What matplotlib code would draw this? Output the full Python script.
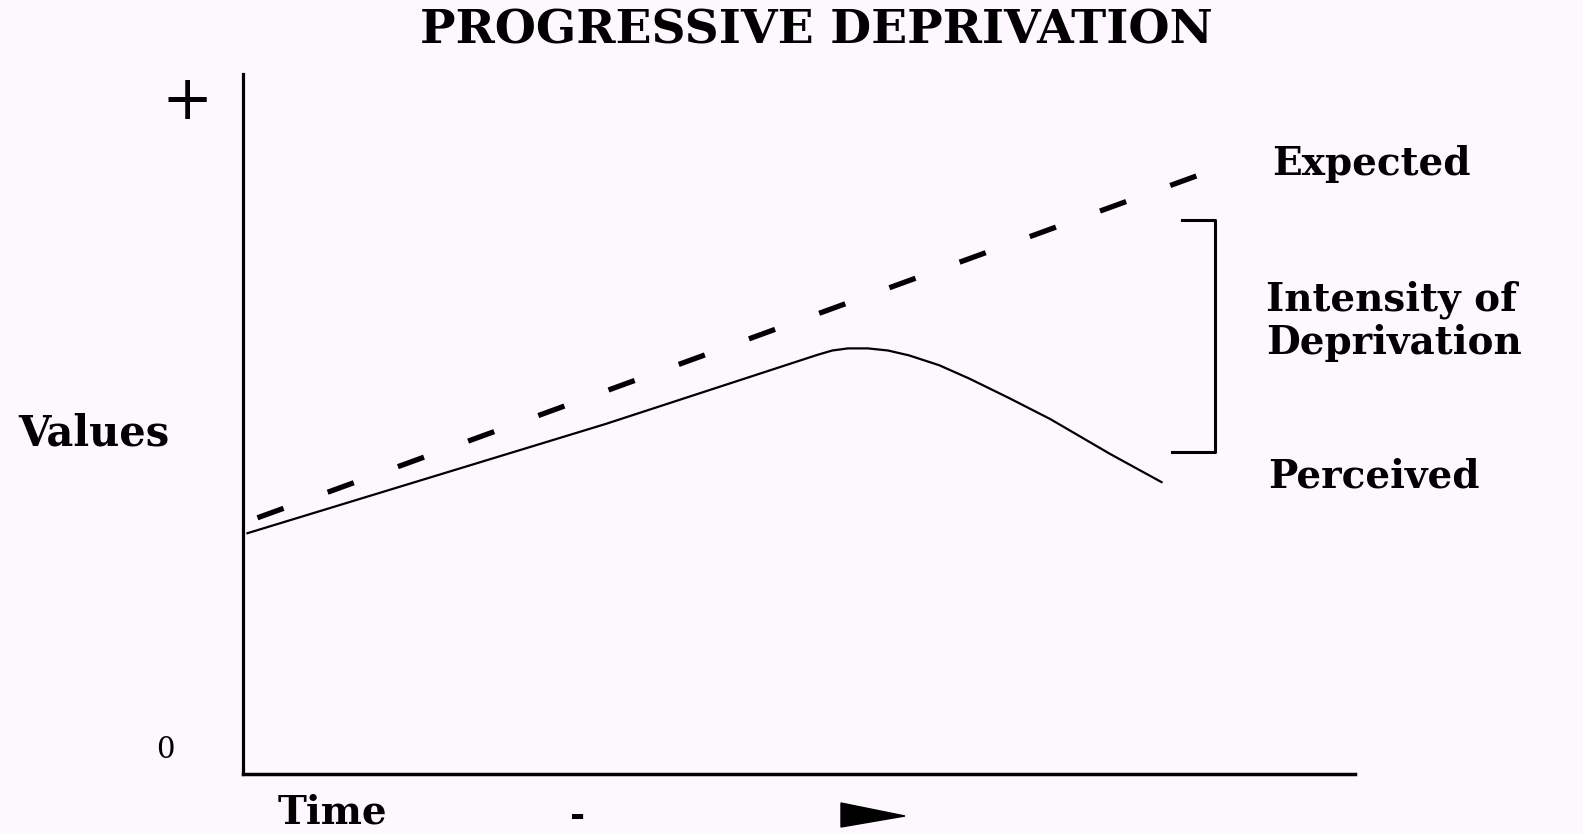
import matplotlib
matplotlib.use('Agg')
import matplotlib.pyplot as plt
from matplotlib.patches import Polygon

plt.rcParams['font.family'] = ['DejaVu Serif']
plt.rcParams['lines.scale_dashes'] = False

W, H = 1583, 834
BG = '#fdf8fd'

# 数据（时间 0-100，数值 0-100）
perceived_t = [0.4, 32.6, 51.7, 53.0, 54.4, 56.2, 58.0, 59.9, 62.6, 65.3, 68.9, 72.6, 78.0, 82.6]
perceived_v = [34.4, 50.0, 59.9, 60.5, 60.8, 60.8, 60.5, 59.8, 58.4, 56.5, 53.7, 50.7, 45.7, 41.7]
expected_t = [1.3, 86.2]
expected_v = [36.6, 85.7]

# 括号：剥夺强度
gap_x = 87.4
gap_top, gap_bottom = 79.1, 46.0
gap_tick_top, gap_tick_bottom = 84.4, 83.5

title = 'PROGRESSIVE DEPRIVATION'
labels = ['Expected', 'Intensity of\nDeprivation', 'Perceived']


def fx(px):
    return px / W


def fy(py):
    return 1 - py / H


fig = plt.figure(figsize=(W / 100, H / 100), dpi=100, facecolor=BG)
ax = fig.add_axes([fx(243), fy(774), fx(1355) - fx(243), fy(74) - fy(774)])
ax.set_xlim(0, 100)
ax.set_ylim(0, 100)
ax.set_xticks([])
ax.set_yticks([])
for s in ['top', 'right']:
    ax.spines[s].set_visible(False)
ax.spines['left'].set_linewidth(2.3)
ax.spines['bottom'].set_linewidth(2.5)
ax.patch.set_alpha(0)

# 实际感知线
ax.plot(perceived_t, perceived_v, color='black', lw=1.6, solid_joinstyle='round', clip_on=False)
# 预期线（虚线）
ax.plot(expected_t, expected_v, color='black', lw=3.8,
        linestyle=(0, (20, 33.8)), dash_capstyle='butt', clip_on=False)

# 括号
ax.plot([gap_tick_top, gap_x, gap_x, gap_tick_bottom],
        [gap_top, gap_top, gap_bottom, gap_bottom],
        color='black', lw=2.2, clip_on=False)

# 文字
fig.text(fx(816), fy(30), title, ha='center', va='center', fontsize=34, fontweight='bold')
fig.text(fx(187), fy(102), '+', ha='center', va='center', fontsize=44)
fig.text(fx(18), fy(434), 'Values', ha='left', va='center', fontsize=30, fontweight='bold')
fig.text(fx(165), fy(750), '0', ha='center', va='center', fontsize=21)
fig.text(fx(278), fy(823), 'Time', ha='left', va='baseline', fontsize=28, fontweight='bold')
fig.text(fx(578), fy(816), '-', ha='center', va='center', fontsize=26, fontweight='bold')

fig.text(fx(1272), fy(164), labels[0], ha='left', va='center', fontsize=28, fontweight='bold')
fig.text(fx(1266), fy(321), labels[1], ha='left', va='center', fontsize=28,
         fontweight='bold', linespacing=1.15)
fig.text(fx(1268), fy(476), labels[2], ha='left', va='center', fontsize=28, fontweight='bold')

# 时间箭头头部
arrow = Polygon([[fx(841), fy(803)], [fx(905), fy(816)], [fx(841), fy(827)]],
                closed=True, transform=fig.transFigure, color='black')
fig.patches.append(arrow)

fig.savefig('out.png', dpi=100, facecolor=BG)
